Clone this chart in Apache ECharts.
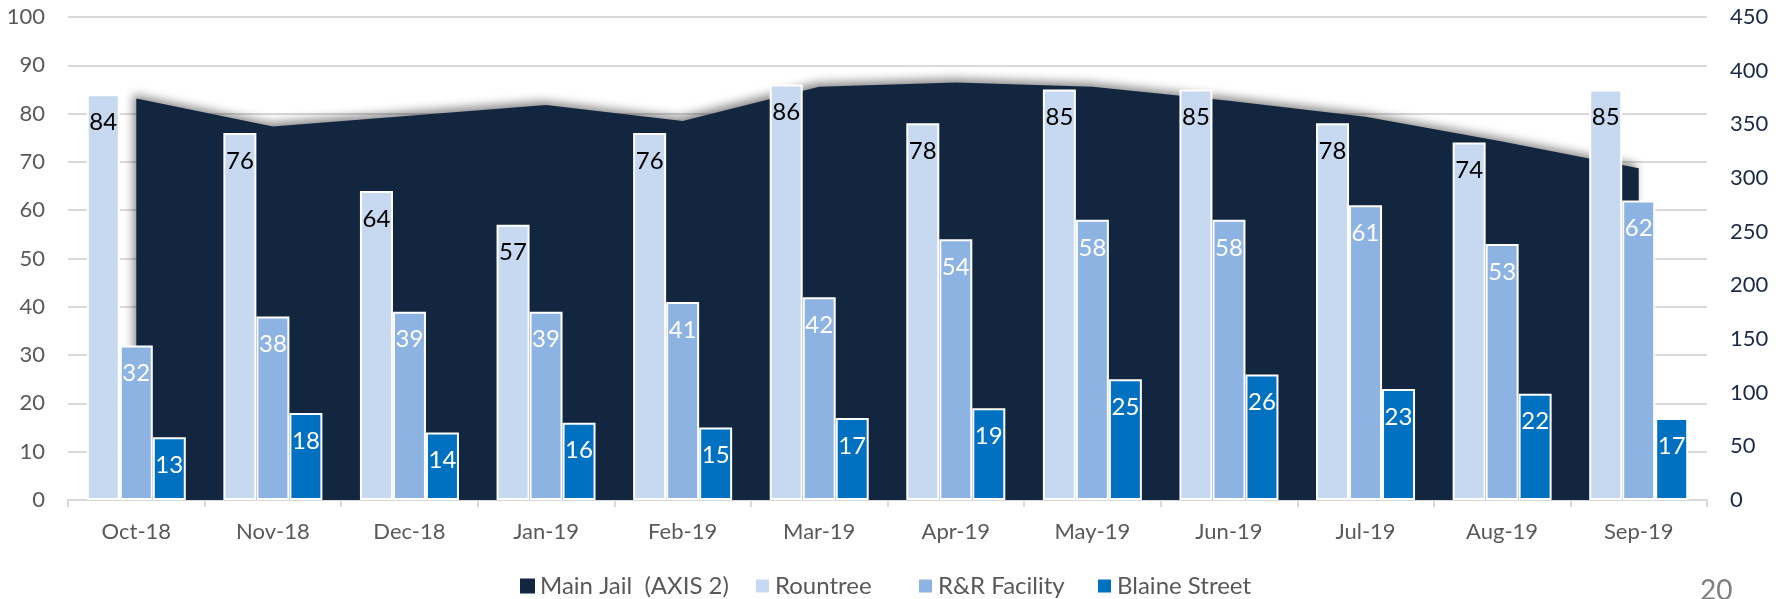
<!DOCTYPE html>
<html>
<head>
<meta charset="utf-8">
<script src="https://cdn.jsdelivr.net/npm/echarts@6/dist/echarts.min.js"></script>
<style>
html,body{margin:0;padding:0;background:#fff;}
#chart{width:1787px;height:599px;}
</style>
</head>
<body>
<div id="chart"></div>
<script>
var categories = ['Oct-18','Nov-18','Dec-18','Jan-19','Feb-19','Mar-19','Apr-19','May-19','Jun-19','Jul-19','Aug-19','Sep-19'];
var mainJail = [374, 348, 358, 368, 353, 385, 389, 385, 372, 357, 334, 309];
var rountree = [84, 76, 64, 57, 76, 86, 78, 85, 85, 78, 74, 85];
var rrFacility = [32, 38, 39, 39, 41, 42, 54, 58, 58, 61, 53, 62];
var blaineStreet = [13, 18, 14, 16, 15, 17, 19, 25, 26, 23, 22, 17];
var seriesNames = ['Main Jail  (AXIS 2)', 'Rountree', 'R&R Facility', 'Blaine Street'];
var leftTicks = {min: 0, max: 100, interval: 10};
var rightTicks = {min: 0, max: 450, interval: 50};
var pageNumber = '20';

var FONT = 'Lato';
var chart = echarts.init(document.getElementById('chart'), null, {renderer: 'canvas'});

function barSeries(name, data, color, labelColor) {
  return {
    name: name,
    type: 'bar',
    yAxisIndex: 0,
    data: data,
    barWidth: 33,
    barGap: '0%',
    z: 3,
    itemStyle: {color: color, borderColor: '#ffffff', borderWidth: 2},
    label: {
      show: true,
      position: 'insideTop',
      distance: 16,
      color: labelColor,
      fontFamily: FONT,
      fontSize: 24
    }
  };
}

var legendLefts = [515, 749, 912, 1091];
var legends = seriesNames.map(function (n, i) {
  return {
    top: 569,
    left: legendLefts[i],
    icon: 'rect',
    itemWidth: 15,
    itemHeight: 15,
    itemGap: 5,
    textStyle: {color: '#595959', fontSize: 24, fontFamily: FONT},
    data: [n]
  };
});

chart.setOption({
  animation: false,
  backgroundColor: '#ffffff',
  textStyle: {fontFamily: FONT},
  grid: {left: 68, right: 80, top: 17, bottom: 99, containLabel: false},
  legend: legends,
  xAxis: {
    type: 'category',
    data: categories,
    boundaryGap: true,
    axisLine: {lineStyle: {color: '#d9d9d9', width: 2}},
    axisTick: {show: true, length: 7, lineStyle: {color: '#d9d9d9', width: 2}},
    axisLabel: {color: '#595959', fontSize: 22, fontFamily: FONT, margin: 21}
  },
  yAxis: [
    {
      type: 'value',
      min: leftTicks.min, max: leftTicks.max, interval: leftTicks.interval,
      axisLine: {show: false},
      axisTick: {show: false},
      axisLabel: {color: '#595959', fontSize: 22, fontFamily: FONT, margin: 23},
      splitLine: {show: true, lineStyle: {color: '#d9d9d9', width: 2}}
    },
    {
      type: 'value',
      min: rightTicks.min, max: rightTicks.max, interval: rightTicks.interval,
      position: 'right',
      axisLine: {show: false},
      axisTick: {show: false},
      axisLabel: {color: '#1b2a45', fontSize: 22, fontFamily: FONT, margin: 23},
      splitLine: {show: false}
    }
  ],
  series: [
    {
      name: seriesNames[0],
      type: 'line',
      yAxisIndex: 1,
      data: mainJail,
      z: 1,
      symbol: 'none',
      showSymbol: false,
      lineStyle: {width: 0, color: '#132640'},
      itemStyle: {color: '#132640'},
      areaStyle: {
        color: '#132640',
        opacity: 1,
        shadowColor: 'rgba(0,0,0,0.45)',
        shadowBlur: 10,
        shadowOffsetX: -3,
        shadowOffsetY: -4
      }
    },
    barSeries(seriesNames[1], rountree, '#c6d9f0', '#000000'),
    barSeries(seriesNames[2], rrFacility, '#8db3e2', '#ffffff'),
    barSeries(seriesNames[3], blaineStreet, '#0070c0', '#ffffff')
  ],
  graphic: [
    {
      type: 'text',
      left: 1700,
      top: 577,
      style: {text: pageNumber, fill: '#7f7f7f', font: '28px ' + FONT}
    }
  ]
});
</script>
</body>
</html>
